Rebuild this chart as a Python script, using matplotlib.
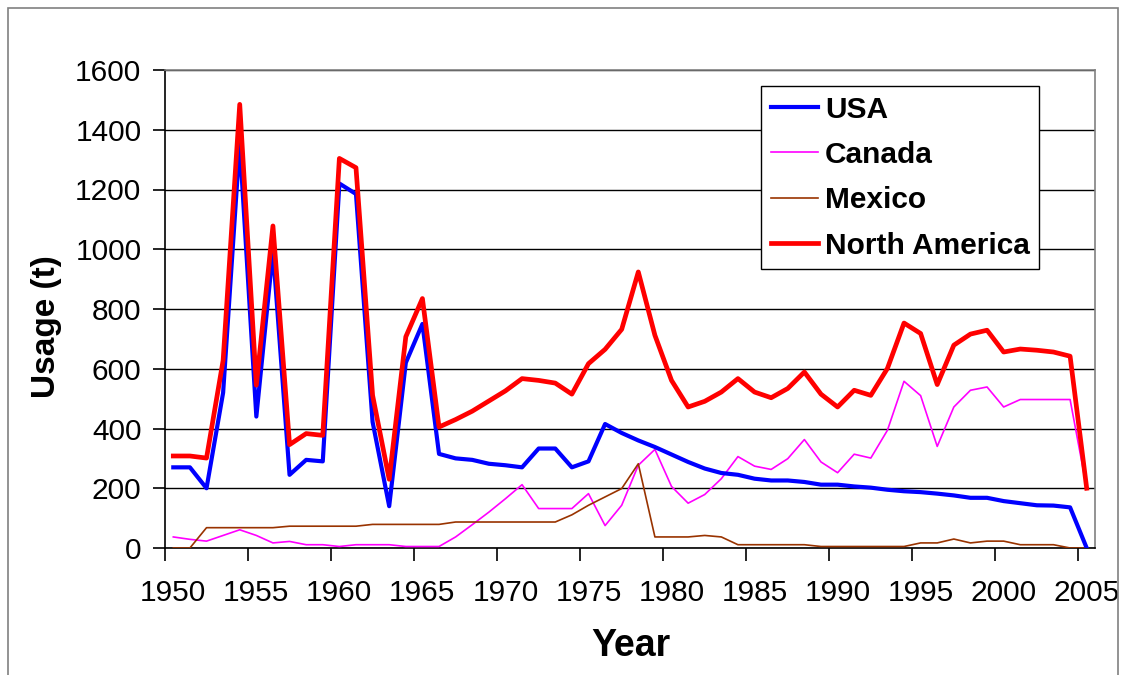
import matplotlib
matplotlib.use("Agg")
import matplotlib.pyplot as plt
from matplotlib.patches import Rectangle
import numpy as np

years = list(range(1950, 2006))
usa = [270, 270, 200, 520, 1355, 440, 995, 245, 295, 290,
       1220, 1185, 422, 140, 620, 750, 315, 300, 295, 282,
       277, 270, 333, 333, 270, 290, 415, 385, 360, 338,
       313, 288, 266, 251, 245, 232, 226, 226, 221, 212,
       212, 206, 202, 195, 190, 187, 182, 176, 168, 168,
       157, 150, 143, 142, 136, 0]
canada = [37, 29, 23, 42, 61, 42, 17, 22, 11, 11,
          5, 11, 11, 11, 5, 5, 5, 37, 78, 120,
          165, 212, 132, 132, 132, 182, 75, 143, 277, 330,
          206, 150, 179, 232, 306, 274, 263, 299, 363, 288,
          252, 314, 301, 394, 558, 510, 340, 472, 528, 539,
          472, 497, 497, 497, 497, 200]
mexico = [0, 0, 68, 68, 68, 68, 68, 73, 73, 73,
          73, 73, 79, 79, 79, 79, 79, 87, 87, 87,
          87, 87, 87, 87, 111, 143, 171, 199, 282, 37,
          37, 37, 42, 37, 11, 11, 11, 11, 11, 5,
          5, 5, 5, 5, 5, 17, 17, 30, 17, 23,
          23, 11, 11, 11, 0, 0]
north_america = [308, 308, 301, 628, 1485, 545, 1078, 346, 383, 377,
                 1304, 1273, 511, 230, 707, 835, 405, 430, 458, 492,
                 526, 567, 561, 552, 515, 617, 665, 732, 924, 712,
                 561, 472, 491, 522, 567, 522, 503, 534, 589, 515,
                 472, 528, 511, 601, 753, 718, 547, 679, 716, 729,
                 656, 666, 662, 656, 642, 200]
series_names = ["USA", "Canada", "Mexico", "North America"]
x_labels = list(range(1950, 2006, 5))
y_ticks = list(range(0, 1601, 200))

plt.rcParams['font.family'] = ['Liberation Sans', 'DejaVu Sans']

W, H = 1125, 675
fig = plt.figure(figsize=(W / 100, H / 100), dpi=100)
L, R, T, B = 165, 1095, 70, 548
ax = fig.add_axes([L / W, 1 - B / H, (R - L) / W, (B - T) / H])

# outer chart border
fig.patches.append(Rectangle((8 / W, -0.05), (1118 - 8) / W, 1 - 8 / H + 0.05,
                             transform=fig.transFigure, fill=False,
                             edgecolor='#808080', linewidth=1.2))

ax.plot(years, usa, color='#0000FF', lw=3.0, label=series_names[0], zorder=4)
ax.plot(years, canada, color='#FF00FF', lw=1.2, label=series_names[1], zorder=3)
ax.plot(years, mexico, color='#993300', lw=1.2, label=series_names[2], zorder=3)
ax.plot(years, north_america, color='#FF0000', lw=3.4, label=series_names[3], zorder=5)

ax.set_xlim(1949.5, 2005.5)
ax.set_ylim(0, 1600)
ax.set_yticks(y_ticks)
ax.set_yticklabels([str(v) for v in y_ticks], fontsize=21.5)
ax.set_xticks(x_labels)
ax.set_xticklabels([str(v) for v in x_labels], fontsize=21.5)
ax.tick_params(axis='x', which='major', length=0, pad=22)
ax.set_xticks([v - 0.5 for v in x_labels], minor=True)
ax.tick_params(axis='x', which='minor', length=9, width=1.2, color='black')
ax.tick_params(axis='y', length=9, width=1.2, pad=8)

ax.grid(axis='y', color='black', lw=1.0, zorder=1)
ax.set_axisbelow(True)
for s in ['top', 'right']:
    ax.spines[s].set_color('#808080')
    ax.spines[s].set_linewidth(1.2)
for s in ['left', 'bottom']:
    ax.spines[s].set_color('black')
    ax.spines[s].set_linewidth(1.2)

fig.text(631 / W, 1 - 646 / H, 'Year', fontsize=27, fontweight='bold',
         ha='center', va='center')
fig.text(46 / W, 1 - 327 / H, 'Usage (t)', fontsize=24, fontweight='bold',
         ha='center', va='center', rotation=90)

leg = ax.legend(loc='upper left', bbox_to_anchor=(761 / W, 1 - 86 / H),
                bbox_transform=fig.transFigure,
                prop={'weight': 'bold', 'size': 21.5}, frameon=True,
                fancybox=False, edgecolor='black', framealpha=1,
                handlelength=1.6, handletextpad=0.22, labelspacing=0.58,
                borderpad=0.32, borderaxespad=0)
leg.get_frame().set_linewidth(1.0)

fig.savefig('out.png', dpi=100)
